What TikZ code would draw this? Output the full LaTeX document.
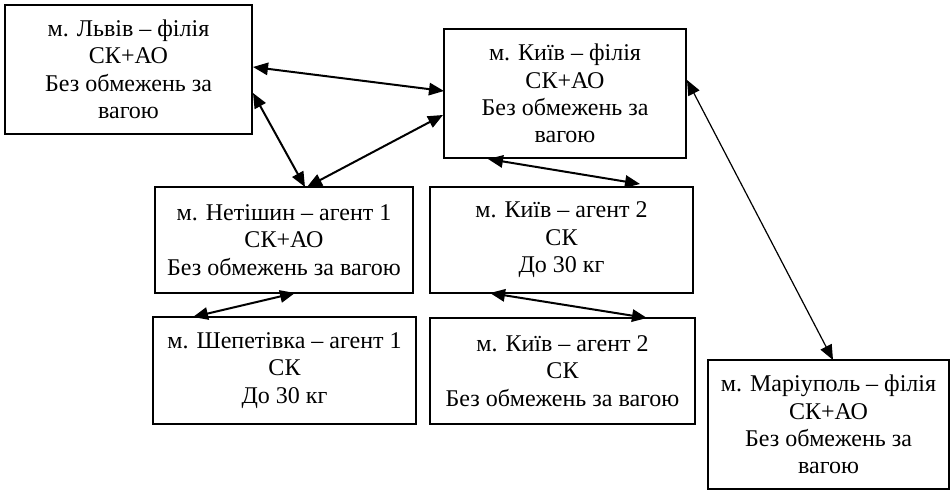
\documentclass[tikz,border=0pt]{standalone}
\usepackage{fontspec}
\setmainfont{Liberation Serif}
\usetikzlibrary{arrows.meta,calc}
\tikzset{
  box/.style={draw, line width=0.85pt, align=center, inner sep=0pt, outer sep=0pt,
    anchor=north west, font=\fontsize{12}{13.7}\selectfont},
  tip/.tip={Triangle[length=7.5pt,width=6.2pt]},
  arr/.style={line width=1pt, tip-tip},
  thinarr/.style={line width=0.6pt, tip-tip}
}
\begin{document}
\begin{tikzpicture}[x=0.5pt,y=-0.5pt]
\useasboundingbox (0,0) rectangle (952,490);
\node[box, minimum width=123.5pt, minimum height=64.5pt] (lviv) at (5,5)
  {м. Львів – філія\\СК+АО\\Без обмежень за\\вагою};
\node[box, minimum width=121pt, minimum height=64.5pt] (kf) at (444,29)
  {м. Київ – філія\\СК+АО\\Без обмежень за\\вагою};
\node[box, minimum width=129pt, minimum height=53pt] (net) at (155,187)
  {м. Нетішин – агент 1\\СК+АО\\Без обмежень за вагою};
\node[box, minimum width=131.5pt, minimum height=53.5pt] (shep) at (153,317)
  {м. Шепетівка – агент 1\\СК\\До 30 кг};
\node[box, minimum width=131.5pt, minimum height=53pt] (ka1) at (430,187)
  {м. Київ – агент 2\\СК\\До 30 кг};
\node[box, minimum width=132.5pt, minimum height=53pt] (ka2) at (430,318)
  {м. Київ – агент 2\\СК\\Без обмежень за вагою};
\node[box, minimum width=120.5pt, minimum height=64.5pt] (mar) at (708,360)
  {м. Маріуполь – філія\\СК+АО\\Без обмежень за\\вагою};

\draw[arr] ($(lviv.north east)+(1,62)$) -- ($(kf.north west)+(0,62)$);
\draw[arr] ($(lviv.north east)+(1,88)$) -- ($(net.north west)+(150,0)$);
\draw[arr] ($(net.north west)+(152,0)$) -- ($(kf.north west)+(-1,86)$);
\draw[arr] ($(kf.south west)+(44,1)$) -- ($(ka1.north west)+(210,-3)$);
\draw[thinarr] ($(kf.north east)+(1,51)$) -- ($(mar.north west)+(125,0)$);
\draw[arr] ($(net.south west)+(140,0)$) -- ($(shep.north west)+(40,0)$);
\draw[arr] ($(ka1.south west)+(60,0)$) -- ($(ka2.north west)+(217,0)$);
\end{tikzpicture}
\end{document}
